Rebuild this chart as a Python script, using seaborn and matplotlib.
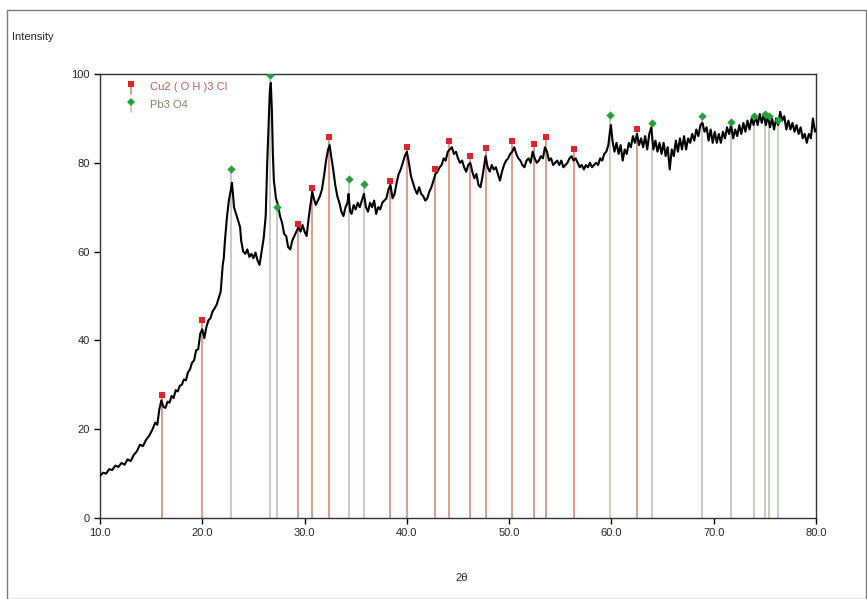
import matplotlib
matplotlib.use("Agg")
import matplotlib.pyplot as plt
import seaborn as sns
import pandas as pd
from matplotlib.patches import Rectangle

# ---------------- data ----------------
two_theta = [10.0, 10.3, 10.6, 10.9, 11.2, 11.5, 11.8, 12.1, 12.4, 12.7, 13.0, 13.3, 13.6, 13.9, 14.2,
             14.5, 14.8, 15.1, 15.4, 15.6, 15.8, 16.0, 16.2, 16.4, 16.6, 16.8, 17.0, 17.2, 17.4, 17.6,
             17.8, 18.0, 18.2, 18.4, 18.6, 18.8, 19.0, 19.2, 19.4, 19.6, 19.8, 20.0, 20.2, 20.4, 20.6,
             20.8, 21.0, 21.2, 21.4, 21.6, 21.8, 21.9, 22.0, 22.1, 22.2, 22.4, 22.6, 22.8, 22.9, 23.0,
             23.1, 23.3, 23.5, 23.7, 23.8, 24.0, 24.2, 24.4, 24.6, 24.8, 25.0, 25.2, 25.4, 25.6, 25.8,
             26.0, 26.2, 26.35, 26.5, 26.6, 26.7, 26.8, 26.9, 27.0, 27.2, 27.4, 27.6, 27.8, 28.0, 28.2,
             28.4, 28.6, 28.8, 29.0, 29.2, 29.4, 29.6, 29.8, 30.0, 30.2, 30.4, 30.6, 30.75, 30.9, 31.1,
             31.3, 31.5, 31.7, 31.9, 32.1, 32.3, 32.45, 32.6, 32.8, 33.0, 33.2, 33.4, 33.6, 33.8, 34.0,
             34.2, 34.3, 34.45, 34.6, 34.8, 35.0, 35.2, 35.4, 35.6, 35.8, 36.0, 36.2, 36.4, 36.6, 36.8,
             37.0, 37.2, 37.4, 37.6, 37.8, 38.0, 38.2, 38.4, 38.6, 38.8, 39.0, 39.2, 39.4, 39.6, 39.8,
             40.0, 40.2, 40.4, 40.6, 40.8, 41.0, 41.2, 41.4, 41.6, 41.8, 42.0, 42.2, 42.4, 42.6, 42.8,
             43.0, 43.2, 43.4, 43.6, 43.8, 44.0, 44.2, 44.4, 44.6, 44.8, 45.0, 45.2, 45.4, 45.6, 45.8,
             46.0, 46.2, 46.4, 46.6, 46.8, 47.0, 47.2, 47.4, 47.6, 47.7, 47.9, 48.1, 48.3, 48.5, 48.7,
             48.9, 49.1, 49.3, 49.5, 49.7, 49.9, 50.1, 50.3, 50.5, 50.7, 50.9, 51.1, 51.3, 51.5, 51.7,
             51.9, 52.1, 52.3, 52.5, 52.7, 52.9, 53.1, 53.3, 53.5, 53.7, 53.9, 54.1, 54.3, 54.5, 54.7,
             54.9, 55.1, 55.3, 55.5, 55.7, 55.9, 56.1, 56.3, 56.5, 56.7, 56.9, 57.1, 57.3, 57.5, 57.7,
             57.9, 58.1, 58.3, 58.5, 58.7, 58.9, 59.1, 59.3, 59.5, 59.7, 59.85, 59.95, 60.1, 60.3, 60.5,
             60.7, 60.9, 61.1, 61.3, 61.5, 61.7, 61.9, 62.1, 62.3, 62.5, 62.7, 62.9, 63.1, 63.3, 63.5,
             63.7, 63.9, 64.1, 64.3, 64.5, 64.7, 64.9, 65.1, 65.3, 65.5, 65.7, 65.9, 66.1, 66.3, 66.5,
             66.7, 66.9, 67.1, 67.3, 67.5, 67.7, 67.9, 68.1, 68.3, 68.5, 68.7, 68.9, 69.1, 69.3, 69.5,
             69.7, 69.9, 70.1, 70.3, 70.5, 70.7, 70.9, 71.1, 71.3, 71.5, 71.7, 71.9, 72.1, 72.3, 72.5,
             72.7, 72.9, 73.1, 73.3, 73.5, 73.7, 73.9, 74.1, 74.3, 74.5, 74.7, 74.9, 75.1, 75.3, 75.5,
             75.7, 75.9, 76.1, 76.3, 76.5, 76.7, 76.9, 77.1, 77.3, 77.5, 77.7, 77.9, 78.1, 78.3, 78.5,
             78.7, 78.9, 79.1, 79.3, 79.5, 79.7, 79.9, 80.0]
intensity = [9.5, 10.2, 10.0, 11.0, 10.8, 11.8, 11.5, 12.4, 12.0, 13.2, 12.8, 14.2, 15.0, 16.5, 16.2,
             17.6, 18.5, 19.8, 21.5, 21.0, 24.5, 26.5, 25.0, 24.8, 26.2, 26.0, 27.5, 27.0, 28.8, 28.5,
             29.8, 30.0, 31.2, 31.0, 32.8, 33.5, 35.0, 35.5, 37.8, 38.0, 41.5, 42.5, 40.5, 43.0, 44.5,
             45.0, 46.5, 47.2, 48.0, 49.5, 51.0, 54.0, 57.0, 58.5, 62.0, 67.5, 71.5, 74.0, 75.5, 73.0,
             70.0, 68.5, 67.0, 65.5, 62.5, 60.0, 59.5, 60.5, 58.8, 59.5, 58.5, 59.8, 58.0, 57.0, 60.0,
             63.0, 68.0, 80.0, 90.0, 96.0, 98.0, 92.0, 82.0, 76.0, 72.0, 70.5, 68.0, 66.5, 64.0, 63.5,
             61.0, 60.5, 62.5, 63.5, 64.5, 65.5, 64.5, 66.0, 64.5, 63.5, 67.5, 71.0, 73.5, 72.0, 70.5,
             71.5, 72.5, 74.0, 77.0, 80.5, 83.0, 84.0, 81.5, 78.5, 75.0, 72.5, 71.0, 69.0, 68.0, 70.0,
             71.0, 73.0, 69.0, 68.5, 70.5, 69.5, 71.0, 70.0, 71.5, 73.0, 70.0, 69.0, 71.0, 70.0, 71.5,
             68.5, 70.0, 69.5, 71.0, 71.5, 72.0, 74.0, 75.0, 72.0, 73.0, 75.5, 77.5, 78.5, 80.0, 81.5,
             82.5, 80.0, 77.0, 75.5, 74.0, 73.0, 74.5, 73.0, 72.5, 71.5, 72.0, 73.5, 74.5, 76.0, 77.5,
             78.0, 79.0, 79.5, 81.0, 80.5, 82.5, 83.0, 83.5, 82.0, 82.5, 81.0, 80.0, 80.5, 79.0, 78.0,
             79.5, 80.0, 78.0, 76.5, 77.5, 75.0, 74.5, 77.0, 80.0, 81.5, 79.0, 78.0, 79.5, 78.5, 79.0,
             77.5, 76.0, 78.0, 79.5, 80.5, 81.0, 82.0, 82.5, 83.5, 82.0, 81.0, 80.5, 79.5, 79.0, 80.5,
             81.0, 80.0, 82.5, 81.0, 80.0, 80.5, 81.5, 81.0, 83.5, 82.5, 80.5, 81.0, 79.5, 80.0, 80.5,
             79.5, 80.5, 79.0, 79.5, 80.0, 81.0, 81.5, 80.5, 81.0, 80.0, 79.0, 79.5, 78.5, 79.5, 79.0,
             80.0, 79.0, 79.5, 80.0, 79.5, 81.0, 80.5, 82.0, 82.5, 84.0, 87.0, 88.5, 85.0, 82.5, 84.5,
             82.0, 84.0, 80.5, 83.0, 82.0, 84.5, 83.5, 86.0, 84.5, 86.5, 84.0, 85.5, 83.5, 86.0, 83.0,
             86.5, 88.0, 83.0, 85.0, 82.5, 84.5, 82.0, 84.5, 81.5, 83.5, 78.5, 83.0, 81.5, 85.0, 82.5,
             85.5, 83.0, 86.0, 83.0, 85.5, 84.5, 86.5, 85.0, 87.5, 86.0, 88.5, 89.0, 87.0, 88.0, 85.0,
             87.5, 84.5, 87.0, 84.5, 86.5, 84.5, 87.0, 85.5, 88.0, 86.5, 88.5, 85.5, 87.5, 86.0, 88.5,
             86.5, 89.0, 87.0, 89.5, 87.5, 90.0, 88.5, 90.5, 88.5, 91.0, 89.0, 91.0, 88.5, 90.5, 88.0,
             90.0, 87.5, 90.0, 88.5, 91.5, 89.5, 90.5, 87.5, 89.5, 87.5, 89.0, 87.0, 88.5, 86.5, 88.0,
             85.5, 86.5, 84.5, 86.5, 85.5, 90.0, 87.0, 87.5]

cu_pos = [16.1, 20.0, 29.35, 30.75, 32.35, 38.4, 40.0, 42.75, 44.1, 46.15, 47.75, 50.25, 52.4, 53.6, 56.3, 62.5]
cu_int = [27.7, 44.6, 66.2, 74.4, 85.8, 76.0, 83.6, 78.5, 84.8, 81.5, 83.4, 85.0, 84.2, 85.9, 83.0, 87.5]
pb_pos = [22.85, 26.65, 27.35, 34.3, 35.85, 59.9, 64.0, 68.9, 71.7, 73.9, 75.0, 75.4, 76.3]
pb_int = [78.5, 99.8, 70.0, 76.3, 75.2, 90.8, 89.0, 90.5, 89.2, 90.5, 91.1, 90.5, 89.6]

phase_labels = ["Cu2 ( O H )3 Cl", "Pb3 O4"]
x_ticks = [10.0, 20.0, 30.0, 40.0, 50.0, 60.0, 70.0, 80.0]
y_ticks = [0, 20, 40, 60, 80, 100]

# ---------------- style ----------------
sns.set_style("white")
plt.rcParams['font.family'] = ['Liberation Sans', 'DejaVu Sans']

CU_LINE = "#d98a7a"
CU_MARK = "#e0242c"
PB_LINE = "#b9c9b0"
PB_MARK = "#23a23a"

fig = plt.figure(figsize=(8.67, 5.99), dpi=100)
ax = fig.add_axes([100 / 867, 1 - 518 / 599, 716 / 867, 444 / 599])

# figure frame
fig.patches.append(Rectangle((7 / 867, 0), 1 - 8 / 867, 1 - 10 / 599, transform=fig.transFigure,
                             fill=False, edgecolor="#7a7a7a", linewidth=1.0))

# stick patterns
ax.vlines(pb_pos, 0, pb_int, colors=PB_LINE, linewidth=1.2, zorder=1)
ax.vlines(cu_pos, 0, cu_int, colors=CU_LINE, linewidth=1.2, zorder=1)

df = pd.DataFrame({"two_theta": two_theta[:len(intensity)], "intensity": intensity[:len(two_theta)]})
sns.lineplot(data=df, x="two_theta", y="intensity", ax=ax, color="black", linewidth=1.5,
             sort=False, zorder=3)

sns.scatterplot(x=cu_pos, y=cu_int, ax=ax, color=CU_MARK, marker="s", s=14, linewidth=0, zorder=4)
sns.scatterplot(x=pb_pos, y=pb_int, ax=ax, color=PB_MARK, marker="D", s=18, linewidth=0, zorder=4)

# legend (pin-like symbols)
leg_items = [(phase_labels[0], CU_LINE, CU_MARK, "s", "#c0605a"),
             (phase_labels[1], PB_LINE, PB_MARK, "D", "#6f8f60")]
for i, (lab, lc, mc, mk, tc) in enumerate(leg_items):
    yy = 0.978 - i * 0.041
    ax.plot([0.043, 0.043], [yy - 0.022, yy], transform=ax.transAxes, color=lc, lw=1.2, clip_on=False)
    ax.plot([0.043], [yy], transform=ax.transAxes, marker=mk, color=mc, ms=4, mew=0, clip_on=False)
    ax.text(0.07, yy - 0.007, lab, transform=ax.transAxes, color=tc, fontsize=8, va="center")

ax.set_xlim(10, 80)
ax.set_ylim(0, 100)
ax.set_xticks(x_ticks)
ax.set_xticklabels([f"{t:.1f}" for t in x_ticks])
ax.set_yticks(y_ticks)
ax.tick_params(axis="both", direction="out", length=4, width=1, labelsize=8, color="black",
               bottom=True, left=True)
for sp in ax.spines.values():
    sp.set_color("#333333")
    sp.set_linewidth(1.0)
ax.set_xlabel("")
ax.set_ylabel("")

fig.text(12 / 867, 1 - 37 / 599, "Intensity", fontsize=8, va="center", ha="left")
fig.text(462 / 867, 1 - 578 / 599, "2θ", fontsize=8, va="center", ha="center")

fig.savefig("out.png", dpi=100)
